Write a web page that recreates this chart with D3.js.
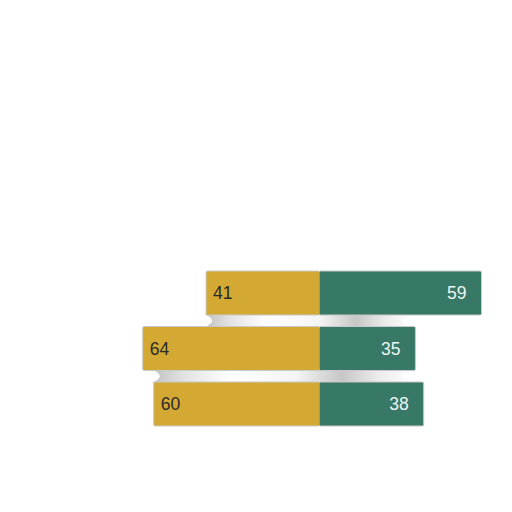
<!DOCTYPE html>
<html>
<head>
<meta charset="utf-8">
<script src="https://cdn.jsdelivr.net/npm/d3@7"></script>
<style>
  html, body { margin: 0; padding: 0; background: #fff; }
  svg { display: block; }
</style>
</head>
<body>
<svg id="chart" width="512" height="512"></svg>
<script>
// Data
const rows = ['A', 'B', 'C'];
const leftValues = [41, 64, 60];
const rightValues = [59, 35, 38];

const width = 512;
const height = 512;
const center = 319;
const pxPerUnit = 2.755;

const svg = d3.select('#chart');

// Scales
const xLeft = d3.scaleLinear().domain([0, 100]).range([center, center - 100 * pxPerUnit]);
const xRight = d3.scaleLinear().domain([0, 100]).range([center, center + 100 * pxPerUnit]);
const y = d3.scaleBand()
  .domain(rows)
  .range([271, 426])
  .paddingInner(0.207)
  .paddingOuter(0);

// Gradient for the connectors between bars
const defs = svg.append('defs');
const grad = defs.append('linearGradient')
  .attr('id', 'neck')
  .attr('x1', '0%').attr('x2', '100%')
  .attr('y1', '0%').attr('y2', '0%');
[
  [0, '#c0c0c0'], [0.12, '#e2e2e2'], [0.3, '#ffffff'],
  [0.55, '#f4f4f4'], [0.72, '#c6c6c6'], [0.86, '#ececec'], [1, '#ffffff']
].forEach(([o, c]) => grad.append('stop').attr('offset', o).attr('stop-color', c));

// Connectors (drawn first so the bars sit on top)
const necks = d3.range(rows.length - 1).map(i => {
  const l = Math.max(xLeft(leftValues[i]), xLeft(leftValues[i + 1]));
  const r = Math.min(xRight(rightValues[i]), xRight(rightValues[i + 1]));
  return { l, r, y0: y(rows[i]) + y.bandwidth(), y1: y(rows[i + 1]) };
});

svg.append('g')
  .selectAll('path')
  .data(necks)
  .join('path')
  .attr('fill', 'url(#neck)')
  .attr('d', d => {
    const mid = (d.y0 + d.y1) / 2;
    const inset = 14;
    return `M${d.l - 2},${d.y0 - 1}` +
      `L${d.r},${d.y0 - 1}` +
      `Q${d.r - inset * 2},${mid} ${d.r},${d.y1 + 1}` +
      `L${d.l - 2},${d.y1 + 1}` +
      `Q${d.l + inset},${mid} ${d.l - 2},${d.y0 - 1}Z`;
  });

// Bars
const bars = svg.append('g');

bars.selectAll('rect.left')
  .data(rows)
  .join('rect')
  .attr('class', 'left')
  .attr('x', (d, i) => xLeft(leftValues[i]))
  .attr('y', d => y(d))
  .attr('width', (d, i) => center - xLeft(leftValues[i]))
  .attr('height', y.bandwidth())
  .attr('fill', '#d4a933')
  .attr('stroke', '#c9c9c9')
  .attr('stroke-width', 1)
  .attr('rx', 1.5);

bars.selectAll('rect.right')
  .data(rows)
  .join('rect')
  .attr('class', 'right')
  .attr('x', center)
  .attr('y', d => y(d))
  .attr('width', (d, i) => xRight(rightValues[i]) - center)
  .attr('height', y.bandwidth())
  .attr('fill', '#377866')
  .attr('stroke', '#c9c9c9')
  .attr('stroke-width', 1)
  .attr('rx', 1.5);

// cover the seam between the two halves
bars.selectAll('rect.seam')
  .data(rows)
  .join('rect')
  .attr('class', 'seam')
  .attr('x', center - 2)
  .attr('y', d => y(d) + 0.5)
  .attr('width', 2)
  .attr('height', y.bandwidth() - 1)
  .attr('fill', '#d4a933');

// Value labels
const labels = svg.append('g')
  .style('font-family', '"Liberation Sans", Arial, sans-serif')
  .style('font-size', '17.5px');

labels.selectAll('text.left')
  .data(rows)
  .join('text')
  .attr('x', (d, i) => xLeft(leftValues[i]) + 7)
  .attr('y', d => y(d) + y.bandwidth() / 2)
  .attr('dy', '0.36em')
  .attr('fill', '#2a2a2a')
  .text((d, i) => leftValues[i]);

labels.selectAll('text.right')
  .data(rows)
  .join('text')
  .attr('x', (d, i) => xRight(rightValues[i]) - 15)
  .attr('y', d => y(d) + y.bandwidth() / 2)
  .attr('dy', '0.36em')
  .attr('text-anchor', 'end')
  .attr('fill', '#eef4f1')
  .text((d, i) => rightValues[i]);
</script>
</body>
</html>
